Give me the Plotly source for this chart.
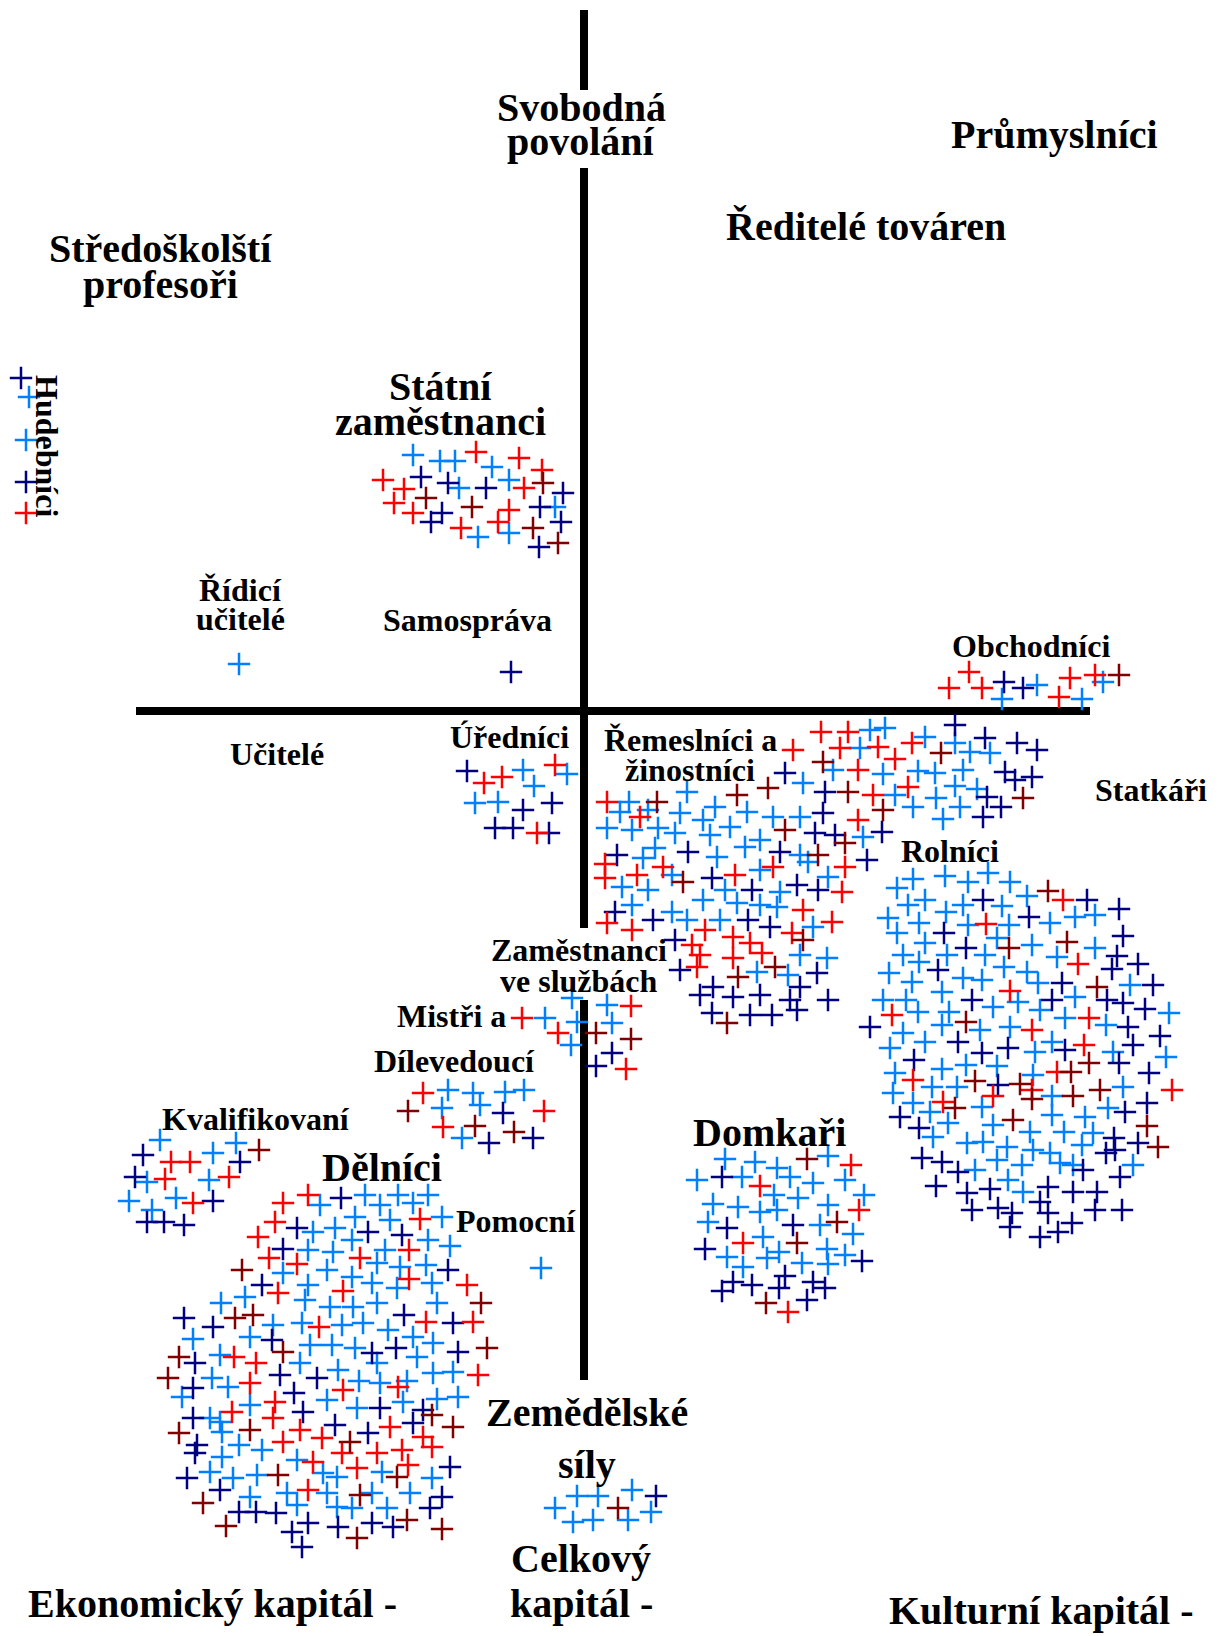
import plotly.graph_objects as go

# barvy: b = světle modrá, n = tmavě modrá, r = červená, d = tmavě červená
hudebnici = [(21, 378, 'n'), (29, 397, 'b'), (26, 440, 'b'), (26, 482, 'n'), (26, 513, 'r')]

statni = [(413, 455, 'b'), (440, 461, 'b'), (455, 461, 'b'), (476, 452, 'r'), (519, 458, 'r'), (492, 467, 'b'),
          (542, 470, 'r'), (383, 480, 'r'), (421, 477, 'n'), (448, 483, 'n'), (459, 488, 'b'), (486, 488, 'n'),
          (509, 480, 'b'), (524, 488, 'r'), (543, 483, 'd'), (563, 493, 'n'), (404, 489, 'r'), (426, 498, 'd'),
          (394, 503, 'r'), (413, 513, 'r'), (431, 522, 'n'), (442, 513, 'n'), (472, 507, 'd'), (509, 510, 'r'),
          (498, 522, 'r'), (540, 507, 'n'), (555, 507, 'b'), (561, 522, 'n'), (461, 528, 'r'), (478, 537, 'b'),
          (509, 533, 'b'), (533, 528, 'd'), (539, 547, 'n'), (558, 543, 'd')]

ridici = [(239, 664, 'b')]
samosprava = [(511, 672, 'n')]
pomocni = [(541, 1268, 'b')]

obchodnici = [(949, 688, 'r'), (969, 672, 'r'), (982, 688, 'r'), (1004, 682, 'n'), (1002, 699, 'b'),
              (1023, 688, 'n'), (1037, 685, 'b'), (1070, 678, 'r'), (1059, 697, 'r'), (1082, 699, 'b'),
              (1095, 675, 'r'), (1103, 682, 'b'), (1119, 675, 'd')]

urednici = [(467, 771, 'n'), (484, 783, 'r'), (502, 777, 'r'), (523, 770, 'b'), (555, 765, 'r'), (567, 774, 'b'),
            (534, 786, 'b'), (475, 803, 'b'), (498, 802, 'b'), (523, 810, 'n'), (552, 803, 'n'), (495, 828, 'n'),
            (513, 828, 'n'), (537, 833, 'r'), (549, 833, 'n')]

remeslnici = [(821, 732, 'r'), (848, 732, 'r'), (870, 730, 'b'), (793, 750, 'r'), (840, 748, 'r'), (860, 748, 'b'),
              (823, 762, 'd'), (833, 770, 'b'), (858, 770, 'r'), (785, 773, 'n'), (803, 783, 'b'), (825, 792, 'n'),
              (848, 792, 'd'), (768, 788, 'd'), (737, 795, 'd'), (687, 792, 'b'), (607, 802, 'r'), (629, 802, 'b'),
              (657, 802, 'd'), (648, 810, 'b'), (640, 817, 'r'), (620, 812, 'b'), (680, 813, 'b'), (715, 807, 'b'),
              (747, 812, 'b'), (703, 820, 'b'), (773, 817, 'b'), (800, 817, 'b'), (823, 813, 'n'), (858, 820, 'r'),
              (607, 828, 'b'), (632, 830, 'b'), (658, 828, 'b'), (675, 833, 'b'), (710, 835, 'b'), (730, 827, 'b'),
              (785, 830, 'd'), (815, 833, 'n'), (835, 835, 'n'), (845, 843, 'd'), (863, 837, 'b'), (655, 848, 'b'),
              (688, 852, 'n'), (717, 857, 'b'), (745, 847, 'b'), (760, 840, 'b'), (780, 852, 'n'), (800, 855, 'b'),
              (818, 855, 'd'), (867, 860, 'n'), (617, 855, 'n'), (643, 858, 'b'), (605, 864, 'r'), (605, 878, 'r'),
              (637, 875, 'r'), (663, 867, 'r'), (672, 875, 'b'), (683, 882, 'd'), (712, 878, 'n'), (735, 875, 'r'),
              (760, 870, 'b'), (773, 867, 'r'), (808, 862, 'b'), (845, 867, 'r'), (622, 887, 'b'), (648, 890, 'b'),
              (725, 890, 'b'), (752, 890, 'n'), (780, 892, 'b'), (797, 885, 'n'), (818, 890, 'n'), (842, 892, 'r'),
              (828, 877, 'b'), (632, 905, 'b'), (703, 900, 'b'), (737, 903, 'b'), (760, 905, 'b'), (777, 907, 'b'),
              (615, 912, 'n'), (607, 923, 'r'), (632, 930, 'r'), (653, 920, 'n'), (672, 912, 'b'), (687, 920, 'b'),
              (720, 920, 'b'), (748, 920, 'n'), (770, 927, 'n'), (803, 910, 'r'), (832, 922, 'r'), (813, 927, 'b'),
              (792, 933, 'r'), (803, 940, 'd'), (705, 930, 'r'), (675, 940, 'n'), (692, 945, 'r'), (733, 937, 'r'),
              (750, 943, 'r'), (762, 953, 'r'), (700, 955, 'r'), (733, 958, 'r'), (800, 955, 'b'), (827, 958, 'b'),
              (680, 970, 'n'), (697, 967, 'r'), (757, 972, 'b'), (775, 967, 'd'), (788, 975, 'b'), (817, 973, 'n'),
              (738, 977, 'd'), (713, 987, 'n'), (700, 995, 'n'), (733, 997, 'n'), (760, 995, 'n'), (800, 987, 'n'),
              (790, 1000, 'n'), (828, 1000, 'n'), (712, 1013, 'n'), (750, 1015, 'n'), (772, 1015, 'n'),
              (797, 1010, 'n'), (727, 1023, 'd'),
              (885, 728, 'b'), (955, 725, 'n'), (925, 737, 'b'), (878, 747, 'r'), (912, 743, 'r'), (941, 753, 'd'),
              (955, 743, 'b'), (985, 738, 'n'), (970, 752, 'b'), (990, 753, 'b'), (1017, 743, 'n'), (1037, 750, 'n'),
              (895, 759, 'r'), (883, 774, 'b'), (918, 771, 'b'), (935, 773, 'b'), (963, 770, 'b'), (1005, 772, 'n'),
              (1015, 780, 'n'), (1032, 777, 'n'), (908, 787, 'r'), (955, 786, 'b'), (977, 789, 'b'), (873, 795, 'r'),
              (895, 795, 'b'), (913, 807, 'b'), (936, 798, 'b'), (960, 807, 'b'), (987, 797, 'n'), (1001, 807, 'n'),
              (1023, 798, 'd'), (883, 810, 'd'), (943, 819, 'b'), (983, 817, 'n'), (882, 832, 'n')]

mistri = [(572, 998, 'b'), (607, 1005, 'b'), (631, 1006, 'r'), (522, 1018, 'r'), (545, 1018, 'b'), (577, 1022, 'b'),
          (612, 1023, 'b'), (558, 1033, 'r'), (596, 1033, 'd'), (631, 1039, 'd'), (571, 1045, 'b'), (612, 1053, 'n'),
          (596, 1066, 'n'), (626, 1069, 'r')]

dilevedouci = [(423, 1093, 'r'), (448, 1090, 'b'), (473, 1093, 'b'), (505, 1092, 'b'), (524, 1090, 'b'),
               (442, 1108, 'b'), (480, 1105, 'b'), (408, 1111, 'd'), (503, 1113, 'n'), (544, 1111, 'r'),
               (443, 1127, 'r'), (475, 1126, 'd'), (514, 1132, 'd'), (462, 1138, 'b'), (489, 1143, 'n'),
               (533, 1138, 'n')]

kvalifikovani = [(160, 1140, 'b'), (236, 1143, 'b'), (259, 1150, 'd'), (143, 1155, 'n'), (171, 1162, 'r'),
                 (190, 1162, 'r'), (213, 1153, 'b'), (240, 1162, 'n'), (135, 1177, 'n'), (147, 1182, 'b'),
                 (165, 1179, 'r'), (209, 1180, 'b'), (229, 1177, 'r'), (129, 1201, 'b'), (176, 1198, 'b'),
                 (193, 1203, 'r'), (213, 1201, 'n'), (152, 1210, 'b'), (147, 1222, 'n'), (164, 1222, 'n'),
                 (184, 1225, 'n')]

delnici = [(308, 1195, 'r'), (341, 1198, 'n'), (365, 1195, 'b'), (380, 1205, 'b'), (398, 1195, 'b'), (413, 1203, 'b'),
           (428, 1195, 'b'), (320, 1205, 'b'), (283, 1203, 'r'), (275, 1222, 'r'), (297, 1228, 'n'), (313, 1232, 'b'),
           (335, 1228, 'b'), (355, 1217, 'b'), (368, 1232, 'n'), (390, 1220, 'b'), (402, 1235, 'n'), (420, 1219, 'r'),
           (442, 1217, 'b'), (258, 1237, 'r'), (283, 1249, 'n'), (269, 1258, 'r'), (297, 1264, 'r'), (308, 1250, 'b'),
           (333, 1252, 'b'), (352, 1240, 'b'), (360, 1258, 'r'), (385, 1250, 'b'), (409, 1250, 'r'), (428, 1240, 'b'),
           (450, 1246, 'b'), (242, 1270, 'd'), (283, 1273, 'b'), (327, 1270, 'b'), (352, 1277, 'b'), (377, 1263, 'b'),
           (400, 1267, 'b'), (448, 1270, 'n'), (426, 1265, 'b'), (409, 1279, 'r'), (432, 1283, 'b'), (262, 1285, 'n'),
           (278, 1293, 'r'), (308, 1285, 'b'), (343, 1291, 'r'), (372, 1283, 'b'), (397, 1288, 'b'), (467, 1285, 'r'),
           (221, 1303, 'b'), (245, 1297, 'b'), (305, 1300, 'b'), (330, 1307, 'b'), (353, 1307, 'b'), (377, 1303, 'b'),
           (437, 1303, 'b'), (481, 1303, 'd'), (184, 1318, 'n'), (235, 1318, 'd'), (253, 1315, 'd'), (213, 1327, 'n'),
           (273, 1325, 'b'), (302, 1323, 'b'), (319, 1327, 'r'), (342, 1325, 'b'), (363, 1323, 'b'), (404, 1315, 'n'),
           (388, 1330, 'b'), (426, 1322, 'r'), (453, 1323, 'n'), (473, 1322, 'r'), (193, 1339, 'b'), (250, 1337, 'b'),
           (272, 1340, 'n'), (283, 1352, 'd'), (310, 1345, 'b'), (332, 1345, 'b'), (355, 1348, 'b'), (372, 1353, 'n'),
           (396, 1348, 'n'), (413, 1337, 'b'), (433, 1343, 'b'), (458, 1352, 'n'), (487, 1348, 'd'), (179, 1357, 'd'),
           (195, 1363, 'n'), (220, 1355, 'b'), (234, 1357, 'r'), (256, 1363, 'r'), (300, 1363, 'b'), (338, 1370, 'b'),
           (377, 1363, 'b'), (417, 1357, 'b'), (433, 1373, 'b'), (453, 1372, 'b'), (478, 1375, 'r'), (168, 1378, 'd'),
           (212, 1378, 'b'), (228, 1387, 'b'), (250, 1383, 'r'), (280, 1375, 'n'), (317, 1378, 'n'), (359, 1381, 'b'),
           (380, 1383, 'b'), (398, 1387, 'r'), (407, 1381, 'b'), (193, 1388, 'n'), (343, 1390, 'r'), (294, 1393, 'n'),
           (182, 1397, 'b'), (250, 1405, 'b'), (275, 1402, 'r'), (327, 1400, 'b'), (357, 1408, 'b'), (380, 1408, 'n'),
           (403, 1402, 'b'), (437, 1399, 'b'), (458, 1397, 'b'), (423, 1410, 'n'), (432, 1415, 'd'), (232, 1412, 'r'),
           (273, 1418, 'r'), (303, 1412, 'n'), (193, 1418, 'n'), (220, 1422, 'b'), (210, 1418, 'b'), (335, 1425, 'n'),
           (390, 1427, 'r'), (413, 1423, 'n'), (453, 1427, 'd'), (179, 1433, 'd'), (250, 1430, 'd'), (300, 1430, 'r'),
           (368, 1433, 'n'), (222, 1432, 'b'), (423, 1437, 'r'), (322, 1438, 'r'), (350, 1442, 'd'), (239, 1445, 'b'),
           (262, 1450, 'b'), (197, 1445, 'n'), (195, 1453, 'n'), (222, 1457, 'b'), (283, 1442, 'r'), (342, 1453, 'r'),
           (377, 1453, 'r'), (402, 1450, 'r'), (432, 1447, 'r'), (297, 1460, 'b'), (313, 1462, 'r'), (357, 1468, 'r'),
           (408, 1465, 'r'), (450, 1467, 'n'), (187, 1478, 'n'), (210, 1472, 'b'), (233, 1478, 'b'), (257, 1475, 'b'),
           (278, 1475, 'd'), (323, 1473, 'b'), (337, 1477, 'b'), (382, 1472, 'b'), (397, 1477, 'd'), (432, 1478, 'b'),
           (220, 1490, 'n'), (308, 1490, 'r'), (250, 1497, 'b'), (287, 1493, 'b'), (327, 1493, 'b'), (360, 1495, 'd'),
           (372, 1493, 'b'), (410, 1493, 'b'), (442, 1497, 'n'), (203, 1503, 'd'), (297, 1505, 'b'), (337, 1507, 'b'),
           (352, 1508, 'b'), (387, 1508, 'b'), (430, 1508, 'n'), (239, 1512, 'n'), (256, 1512, 'n'), (276, 1513, 'n'),
           (226, 1526, 'd'), (292, 1532, 'n'), (308, 1523, 'n'), (338, 1527, 'n'), (372, 1523, 'n'), (393, 1527, 'n'),
           (407, 1520, 'd'), (442, 1529, 'd'), (302, 1547, 'n'), (357, 1538, 'd')]

domkari = [(725, 1159, 'b'), (755, 1162, 'b'), (807, 1159, 'd'), (828, 1156, 'b'), (851, 1165, 'r'), (697, 1180, 'b'),
           (722, 1177, 'n'), (742, 1177, 'b'), (760, 1186, 'r'), (777, 1168, 'b'), (790, 1177, 'b'), (813, 1183, 'b'),
           (845, 1180, 'b'), (864, 1195, 'b'), (713, 1204, 'b'), (738, 1207, 'b'), (774, 1195, 'b'), (798, 1198, 'b'),
           (760, 1212, 'b'), (777, 1210, 'b'), (828, 1205, 'b'), (859, 1210, 'r'), (837, 1222, 'd'), (708, 1222, 'b'),
           (727, 1228, 'n'), (793, 1225, 'n'), (820, 1225, 'b'), (853, 1234, 'b'), (743, 1243, 'r'), (763, 1237, 'b'),
           (797, 1243, 'd'), (705, 1249, 'n'), (727, 1257, 'b'), (767, 1258, 'b'), (779, 1252, 'b'), (802, 1263, 'b'),
           (827, 1249, 'b'), (828, 1264, 'b'), (845, 1255, 'b'), (862, 1261, 'n'), (743, 1267, 'b'), (733, 1282, 'n'),
           (722, 1291, 'n'), (752, 1285, 'n'), (785, 1276, 'n'), (779, 1288, 'n'), (813, 1282, 'n'), (825, 1288, 'n'),
           (766, 1303, 'd'), (807, 1300, 'n'), (788, 1312, 'r')]

zemedelske = [(555, 1508, 'b'), (577, 1496, 'b'), (598, 1496, 'b'), (573, 1522, 'b'), (593, 1520, 'b'),
              (618, 1508, 'd'), (632, 1490, 'b'), (628, 1520, 'b'), (656, 1496, 'n'), (651, 1512, 'b')]

rolnici = [(913, 879, 'b'), (945, 876, 'b'), (968, 882, 'b'), (988, 873, 'b'), (1010, 882, 'b'), (1048, 891, 'd'),
           (1063, 900, 'r'), (1087, 900, 'n'), (1119, 909, 'n'), (897, 888, 'b'), (925, 900, 'b'), (908, 905, 'b'),
           (946, 912, 'b'), (963, 905, 'b'), (983, 900, 'n'), (1002, 906, 'b'), (1027, 896, 'b'), (1029, 917, 'n'),
           (1050, 923, 'b'), (1075, 917, 'b'), (1095, 915, 'b'), (888, 918, 'b'), (897, 933, 'b'), (919, 923, 'b'),
           (944, 933, 'n'), (968, 925, 'b'), (986, 924, 'r'), (1009, 925, 'b'), (1123, 936, 'n'), (1067, 942, 'd'),
           (1032, 945, 'b'), (997, 938, 'b'), (1009, 948, 'd'), (966, 948, 'n'), (925, 943, 'b'), (903, 955, 'b'),
           (947, 955, 'b'), (985, 955, 'b'), (1057, 957, 'b'), (1095, 948, 'b'), (1117, 956, 'n'), (1078, 964, 'r'),
           (1112, 969, 'n'), (1138, 964, 'n'), (919, 962, 'b'), (938, 970, 'n'), (889, 973, 'b'), (912, 982, 'b'),
           (963, 978, 'b'), (982, 980, 'b'), (1004, 967, 'b'), (1027, 972, 'b'), (1038, 983, 'b'), (1062, 983, 'n'),
           (1097, 987, 'd'), (1130, 985, 'b'), (1153, 985, 'n'), (883, 1000, 'b'), (906, 1000, 'b'), (942, 992, 'b'),
           (972, 1000, 'n'), (1010, 991, 'r'), (1018, 1002, 'b'), (1052, 1000, 'n'), (1075, 997, 'b'),
           (1107, 1000, 'n'), (1123, 1003, 'n'), (993, 1007, 'b'), (892, 1015, 'r'), (918, 1012, 'b'),
           (949, 1012, 'b'), (1040, 1010, 'b'), (1145, 1009, 'n'), (1169, 1013, 'b'), (870, 1027, 'n'),
           (903, 1033, 'b'), (942, 1025, 'b'), (966, 1022, 'd'), (980, 1030, 'b'), (1010, 1027, 'b'),
           (1032, 1030, 'r'), (1065, 1018, 'b'), (1089, 1018, 'r'), (1106, 1025, 'b'), (1128, 1027, 'n'),
           (1160, 1036, 'n'), (890, 1048, 'b'), (925, 1042, 'b'), (958, 1042, 'n'), (1052, 1042, 'b'),
           (1065, 1050, 'n'), (1084, 1045, 'r'), (1133, 1045, 'n'), (982, 1053, 'n'), (1008, 1048, 'n'),
           (1035, 1052, 'b'), (1113, 1052, 'b'), (1166, 1057, 'b'), (914, 1060, 'n'), (942, 1069, 'b'),
           (966, 1065, 'b'), (997, 1066, 'b'), (1089, 1063, 'd'), (1119, 1063, 'n'), (895, 1073, 'b'),
           (913, 1080, 'r'), (975, 1081, 'd'), (998, 1085, 'n'), (1020, 1084, 'd'), (1057, 1072, 'r'),
           (1071, 1072, 'd'), (1033, 1075, 'b'), (1149, 1073, 'n'), (893, 1093, 'b'), (932, 1087, 'b'),
           (957, 1087, 'b'), (993, 1096, 'r'), (1032, 1090, 'r'), (1032, 1099, 'd'), (1052, 1096, 'b'),
           (1073, 1096, 'd'), (1100, 1090, 'd'), (1123, 1087, 'b'), (1172, 1090, 'r'), (913, 1103, 'b'),
           (943, 1102, 'r'), (955, 1108, 'd'), (982, 1107, 'b'), (1108, 1108, 'b'), (1147, 1103, 'n'),
           (1125, 1112, 'n'), (900, 1117, 'n'), (930, 1112, 'b'), (1013, 1120, 'd'), (1052, 1115, 'b'),
           (1085, 1117, 'b'), (1147, 1126, 'd'), (919, 1128, 'n'), (948, 1123, 'b'), (993, 1125, 'b'),
           (1030, 1132, 'b'), (1064, 1132, 'b'), (1093, 1133, 'b'), (933, 1137, 'b'), (967, 1143, 'b'),
           (983, 1142, 'b'), (1007, 1147, 'b'), (1114, 1138, 'n'), (1138, 1143, 'n'), (1158, 1147, 'd'),
           (1082, 1145, 'b'), (922, 1158, 'n'), (942, 1162, 'n'), (997, 1160, 'b'), (1022, 1165, 'b'),
           (1033, 1150, 'b'), (1050, 1153, 'b'), (1060, 1163, 'b'), (1073, 1165, 'b'), (1106, 1153, 'n'),
           (1115, 1150, 'n'), (958, 1172, 'n'), (975, 1170, 'b'), (1008, 1180, 'b'), (1083, 1170, 'n'),
           (1120, 1177, 'n'), (1133, 1165, 'b'), (936, 1186, 'n'), (967, 1193, 'n'), (990, 1189, 'n'),
           (1023, 1192, 'b'), (1048, 1187, 'n'), (1073, 1192, 'n'), (1097, 1192, 'n'), (972, 1210, 'n'),
           (998, 1208, 'n'), (1012, 1213, 'n'), (1040, 1202, 'n'), (1048, 1213, 'n'), (1095, 1210, 'n'),
           (1122, 1210, 'n'), (1072, 1223, 'n'), (1058, 1232, 'n'), (1040, 1237, 'n'), (1010, 1227, 'n')]

groups = [hudebnici, statni, ridici, samosprava, pomocni, obchodnici, urednici, remeslnici, mistri,
          dilevedouci, kvalifikovani, delnici, domkari, zemedelske, rolnici]

colors = {'b': '#0080ff', 'n': '#000080', 'r': '#ff0000', 'd': '#800000'}

fig = go.Figure()

# osy - svislá je přerušená popisky
for y0, y1 in [(10, 90), (168, 928), (1000, 1380)]:
    fig.add_shape(type='line', x0=584, x1=584, y0=y0, y1=y1, line=dict(color='black', width=8), layer='below')
fig.add_shape(type='line', x0=136, x1=1090, y0=711, y1=711, line=dict(color='black', width=8), layer='below')

for code, col in colors.items():
    pts = [p for g in groups for p in g if p[2] == code]
    fig.add_trace(go.Scatter(x=[p[0] for p in pts], y=[p[1] for p in pts], mode='markers',
                             marker=dict(symbol='cross-thin', size=16, line=dict(color=col, width=2.5)),
                             hoverinfo='skip'))

BIG = 40
SMALL = 32
labels = [('Svobodná', 581, 107, BIG), ('povolání', 581, 141, BIG),
          ('Průmyslníci', 1054, 134, BIG), ('Ředitelé továren', 866, 226, BIG),
          ('Středoškolští', 160, 248, BIG), ('profesoři', 160, 284, BIG),
          ('Státní', 440, 386, BIG), ('zaměstnanci', 440, 421, BIG),
          ('Řídicí', 240, 590, SMALL), ('učitelé', 240, 619, SMALL),
          ('Samospráva', 467, 620, SMALL), ('Obchodníci', 1031, 646, SMALL),
          ('Učitelé', 277, 754, SMALL), ('Úředníci', 509, 737, SMALL),
          ('Řemeslníci a', 690, 740, SMALL), ('žinostníci', 690, 770, SMALL),
          ('Statkáři', 1151, 790, SMALL), ('Rolníci', 950, 851, SMALL),
          ('Zaměstnanci', 579, 950, SMALL), ('ve službách', 579, 981, SMALL),
          ('Mistři a', 451, 1016, SMALL), ('Dílevedoucí', 454, 1061, SMALL),
          ('Kvalifikovaní', 256, 1119, SMALL), ('Dělníci', 382, 1167, BIG),
          ('Pomocní', 516, 1221, SMALL), ('Domkaři', 769, 1132, BIG),
          ('Zemědělské', 587, 1412, BIG), ('síly', 587, 1464, BIG),
          ('Celkový', 581, 1558, BIG), ('kapitál -', 581, 1603, BIG),
          ('Ekonomický kapitál -', 212, 1603, BIG), ('Kulturní kapitál -', 1041, 1610, BIG)]

for text, x, y, size in labels:
    fig.add_annotation(x=x, y=y, text='<b>' + text + '</b>', showarrow=False, xanchor='center', yanchor='middle',
                       font=dict(family='Liberation Serif', size=size, color='black'))

fig.add_annotation(x=47, y=446, text='<b>Hudebníci</b>', showarrow=False, textangle=90,
                   font=dict(family='Liberation Serif', size=SMALL, color='black'))

fig.update_layout(width=1218, height=1636, margin=dict(l=0, r=0, t=0, b=0),
                  paper_bgcolor='white', plot_bgcolor='white', showlegend=False,
                  xaxis=dict(range=[0, 1218], visible=False, fixedrange=True),
                  yaxis=dict(range=[1636, 0], visible=False, fixedrange=True))

fig.write_html('out.html', config={'displayModeBar': False},
               post_script="document.body.style.margin='0';document.body.style.overflow='hidden';")
